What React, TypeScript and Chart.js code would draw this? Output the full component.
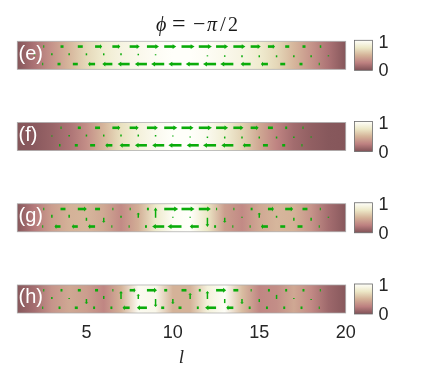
import React, { useEffect, useRef } from 'react';
import { Chart, registerables } from 'chart.js';

Chart.register(...registerables);

// ---------- data ----------
const sites = [1, 2, 3, 4, 5, 6, 7, 8, 9, 10, 11, 12, 13, 14, 15, 16, 17, 18, 19, 20];
const bonds = [1.5, 2.5, 3.5, 4.5, 5.5, 6.5, 7.5, 8.5, 9.5, 10.5, 11.5, 12.5, 13.5, 14.5, 15.5, 16.5, 17.5, 18.5, 19.5];
const xTicks = [5, 10, 15, 20];
const panelLabels = ['(e)', '(f)', '(g)', '(h)'];
const colorbarTickLabels = ['1', '0'];
const xTitle = 'l';

// density (0..1) along the ladder
const heatE = [0.02, 0.18, 0.35, 0.52, 0.68, 0.8, 0.88, 0.93, 0.97, 1.0, 1.0, 0.97, 0.93, 0.88, 0.8, 0.68, 0.52, 0.35, 0.18, 0.02];
const heatF = [0.02, 0.04, 0.1, 0.18, 0.32, 0.52, 0.72, 0.85, 0.94, 1.0, 1.0, 0.94, 0.82, 0.65, 0.45, 0.27, 0.14, 0.07, 0.03, 0.02];
const heatG = [0.03, 0.22, 0.4, 0.5, 0.52, 0.45, 0.3, 0.48, 0.78, 0.97, 1.0, 0.75, 0.4, 0.3, 0.45, 0.52, 0.5, 0.35, 0.15, 0.03];
const heatH = [0.03, 0.15, 0.35, 0.45, 0.4, 0.28, 0.5, 0.95, 0.92, 0.5, 0.5, 0.85, 0.98, 0.55, 0.28, 0.32, 0.45, 0.3, 0.12, 0.03];

// bond currents on upper leg (+ = right) and lower leg
const topE = [0, 0.07, 0.2, 0.33, 0.47, 0.53, 0.67, 0.8, 0.8, 0.87, 0.87, 0.8, 0.8, 0.67, 0.47, 0.27, 0.2, 0.1, 0];
const bottomE = [0, -0.07, -0.2, -0.33, -0.47, -0.67, -0.8, -0.8, -0.87, -0.87, -0.87, -0.87, -0.87, -0.67, -0.47, -0.33, -0.2, -0.07, 0];
const topF = [0, 0, 0.07, 0.2, 0.33, 0.53, 0.6, 0.73, 0.87, 0.8, 0.87, 0.8, 0.67, 0.53, 0.33, 0.13, 0.07, 0, 0];
const bottomF = [0, 0, -0.1, -0.2, -0.33, -0.47, -0.67, -0.8, -0.8, -0.87, -0.8, -0.87, -0.8, -0.53, -0.33, -0.2, -0.07, 0, 0];
const topG = [0, 0.07, 0.33, 0.6, 0.33, 0.07, 0.07, 0.13, 0.93, 0.87, 0.8, 0.07, 0.07, 0.13, 0.4, 0.53, 0.33, 0.07, 0];
const bottomG = [0, -0.07, -0.4, -0.4, -0.47, -0.07, -0.07, -0.13, -0.8, -0.93, -0.6, -0.13, -0.07, -0.07, -0.47, -0.33, -0.33, -0.07, 0];
const topH = [0, 0.07, 0.13, 0.2, 0.2, 0.07, 0.4, 0.67, 0.2, 0.33, 0.13, 0.67, 0.33, 0.07, 0.13, 0.13, 0.13, 0.07, 0];
const bottomH = [0, -0.07, -0.13, -0.2, -0.13, -0.13, -0.47, -0.67, -0.2, -0.2, -0.13, -0.73, -0.47, -0.13, -0.13, -0.13, -0.13, -0.07, 0];

// rung currents (+ = upwards)
const rungE = [0, 0.07, 0.13, 0.13, 0.13, 0.13, 0.13, 0.1, 0.07, 0, 0, -0.07, -0.1, -0.13, -0.13, -0.13, -0.13, -0.13, -0.07, 0];
const rungF = [0, 0, 0.07, 0.1, 0.13, 0.13, 0.13, 0.13, 0.1, 0.07, -0.07, -0.1, -0.13, -0.13, -0.13, -0.13, -0.1, -0.07, 0, 0];
const rungG = [0, 0, 0.2, 0.2, -0.2, -0.33, 0.13, 0.33, 0.67, 0.07, 0.07, -0.6, -0.33, 0.07, 0.33, 0.13, -0.2, -0.2, 0.07, 0];
const rungH = [0, 0, 0.13, 0.07, -0.33, 0.2, 0.53, 0.33, -0.53, -0.33, 0.4, 0.53, -0.27, -0.33, -0.2, 0.27, 0.07, -0.07, 0, 0];

const panels = [
  { label: panelLabels[0], heat: heatE, top: topE, bottom: bottomE, rung: rungE },
  { label: panelLabels[1], heat: heatF, top: topF, bottom: bottomF, rung: rungF },
  { label: panelLabels[2], heat: heatG, top: topG, bottom: bottomG, rung: rungG },
  { label: panelLabels[3], heat: heatH, top: topH, bottom: bottomH, rung: rungH },
];

// ---------- layout / style ----------
const PITCH = 4.64;
const STRIP_TOP = 0.7;
const STRIP_BOTTOM = 2.3;
const LEG1 = 1;
const LEG2 = 2;
const CENTER = 1.5;
const ARROW_SCALE = 0.87;
const GREEN = 'rgb(10,172,10)';

const CMAP: [number, number[]][] = [
  [0, [128, 82, 87]],
  [0.25, [189, 128, 128]],
  [0.5, [212, 178, 152]],
  [0.75, [236, 231, 198]],
  [1, [255, 255, 250]],
];

function cmap(v: number): string {
  const t = Math.max(0, Math.min(1, v));
  for (let i = 0; i < CMAP.length - 1; i++) {
    const [a, ca] = CMAP[i];
    const [b, cb] = CMAP[i + 1];
    if (t <= b) {
      const f = (t - a) / (b - a);
      const c = ca.map((c0, k) => Math.round(c0 + (cb[k] - c0) * f));
      return `rgb(${c[0]},${c[1]},${c[2]})`;
    }
  }
  const c = CMAP[CMAP.length - 1][1];
  return `rgb(${c[0]},${c[1]},${c[2]})`;
}

function drawArrow(ctx: CanvasRenderingContext2D, x0: number, y0: number, x1: number, y1: number) {
  const dx = x1 - x0;
  const dy = y1 - y0;
  const len = Math.hypot(dx, dy);
  if (len < 0.6) return;
  const ux = dx / len;
  const uy = dy / len;
  const hl = len >= 5 ? Math.min(4, len * 0.3) : 0;
  ctx.beginPath();
  ctx.moveTo(x0, y0);
  ctx.lineTo(x1 - ux * hl * 0.7, y1 - uy * hl * 0.7);
  ctx.stroke();
  if (hl > 0) {
    const hw = ctx.lineWidth * 0.5 + 1.1;
    const bx = x1 - ux * hl;
    const by = y1 - uy * hl;
    ctx.beginPath();
    ctx.moveTo(x1, y1);
    ctx.lineTo(bx - uy * hw, by + ux * hw);
    ctx.lineTo(bx + uy * hw, by - ux * hw);
    ctx.closePath();
    ctx.fill();
  }
}

const ladderPlugin = {
  id: 'ladderPlugin',
  beforeDatasetsDraw(chart: any) {
    const { ctx, chartArea } = chart;
    const x = chart.scales.x;
    const y = chart.scales.y;
    ctx.save();
    panels.forEach((p, k) => {
      const base = k * PITCH;
      const yTop = y.getPixelForValue(base + STRIP_TOP);
      const yBot = y.getPixelForValue(base + STRIP_BOTTOM);
      const x0 = x.getPixelForValue(sites[0]);
      const x1 = x.getPixelForValue(sites[sites.length - 1]);
      const g = ctx.createLinearGradient(x0, 0, x1, 0);
      sites.forEach((l, i) => {
        g.addColorStop((x.getPixelForValue(l) - x0) / (x1 - x0), cmap(p.heat[i]));
      });
      ctx.fillStyle = g;
      ctx.fillRect(chartArea.left, yTop, chartArea.right - chartArea.left, yBot - yTop);
      ctx.strokeStyle = 'rgba(170,170,170,0.9)';
      ctx.lineWidth = 0.8;
      ctx.strokeRect(chartArea.left, yTop, chartArea.right - chartArea.left, yBot - yTop);

      // arrows
      ctx.strokeStyle = GREEN;
      ctx.fillStyle = GREEN;
      ctx.lineWidth = 2.6;
      ctx.lineCap = 'butt';
      bonds.forEach((b, i) => {
        const yl1 = y.getPixelForValue(base + LEG1);
        drawArrow(ctx, x.getPixelForValue(b), yl1, x.getPixelForValue(b + p.top[i] * ARROW_SCALE), yl1);
        const yl2 = y.getPixelForValue(base + LEG2);
        drawArrow(ctx, x.getPixelForValue(b), yl2, x.getPixelForValue(b + p.bottom[i] * ARROW_SCALE), yl2);
      });
      ctx.lineWidth = 1.5;
      sites.forEach((s, i) => {
        const xs = x.getPixelForValue(s);
        drawArrow(ctx, xs, y.getPixelForValue(base + CENTER), xs, y.getPixelForValue(base + CENTER - p.rung[i] * ARROW_SCALE));
      });

      // panel label
      ctx.fillStyle = '#ffffff';
      ctx.font = '20px "Liberation Sans", Arial, sans-serif';
      ctx.textAlign = 'left';
      ctx.textBaseline = 'alphabetic';
      ctx.fillText(p.label, chartArea.left + 1.2, yTop + 18.5);

      // colorbar
      const cbL = chartArea.right + 8.7;
      const cbW = 18;
      const cbT = yTop - 1;
      const cbB = yBot + 1;
      const cg = ctx.createLinearGradient(0, cbB, 0, cbT);
      CMAP.forEach(([v]) => cg.addColorStop(v, cmap(v)));
      ctx.fillStyle = cg;
      ctx.fillRect(cbL, cbT, cbW, cbB - cbT);
      ctx.strokeStyle = '#6b6b6b';
      ctx.lineWidth = 0.8;
      ctx.strokeRect(cbL, cbT, cbW, cbB - cbT);
      ctx.fillStyle = '#262626';
      ctx.font = '18px "Liberation Sans", Arial, sans-serif';
      ctx.fillText(colorbarTickLabels[0], cbL + cbW + 6, yTop + 6.5);
      ctx.fillText(colorbarTickLabels[1], cbL + cbW + 6, yBot + 7);
    });

    // title  ϕ = −π/2
    ctx.fillStyle = '#1a1a1a';
    ctx.textBaseline = 'alphabetic';
    ctx.textAlign = 'left';
    const serif = '"Liberation Serif", "DejaVu Serif", serif';
    const parts: [string, string, number, number][] = [
      ['ϕ', 'italic', 156, 20],
      ['=', 'normal', 172, 24],
      ['−', 'normal', 193, 22],
      ['π', 'italic', 207, 20],
      ['/', 'normal', 220, 21],
      ['2', 'normal', 228, 20],
    ];
    parts.forEach(([t, st, px, sz]) => {
      ctx.font = `${st} ${sz}px ${serif}`;
      ctx.fillText(t, px, 31);
    });
    ctx.restore();
  },
};

export default function App() {
  const ref = useRef<HTMLCanvasElement>(null);
  useEffect(() => {
    if (!ref.current) return;
    const chart = new Chart(ref.current, {
      type: 'scatter',
      data: { datasets: [{ data: [], pointRadius: 0 }] },
      options: {
        responsive: false,
        animation: false,
        devicePixelRatio: 1,
        layout: { padding: { left: 17.3, right: 89.3, top: 41.3, bottom: 0 } },
        plugins: {
          legend: { display: false },
          tooltip: { enabled: false },
          title: { display: false },
        },
        scales: {
          x: {
            type: 'linear',
            position: 'bottom',
            min: 1,
            max: 20,
            grid: { display: false, drawTicks: false },
            border: { display: false },
            afterBuildTicks: (s: any) => {
              s.ticks = xTicks.map((v) => ({ value: v }));
            },
            ticks: {
              autoSkip: false,
              maxRotation: 0,
              padding: 9,
              color: '#262626',
              font: { family: '"Liberation Sans", Arial, sans-serif', size: 18 },
            },
            title: {
              display: true,
              text: xTitle,
              color: '#262626',
              font: { family: '"Liberation Serif", "DejaVu Serif", serif', size: 19, style: 'italic' },
              padding: { top: 0, bottom: 2 },
            },
            afterFit: (s: any) => {
              s.height = 58;
            },
          },
          y: {
            type: 'linear',
            reverse: true,
            min: STRIP_TOP,
            max: 3 * PITCH + STRIP_BOTTOM,
            display: false,
          },
        },
      },
      plugins: [ladderPlugin],
    } as any);
    return () => chart.destroy();
  }, []);
  return (
    <div style={{ position: 'absolute', left: 0, top: 0, width: 435, height: 371, background: '#fff' }}>
      <canvas ref={ref} width={435} height={371} style={{ display: 'block' }} />
    </div>
  );
}
